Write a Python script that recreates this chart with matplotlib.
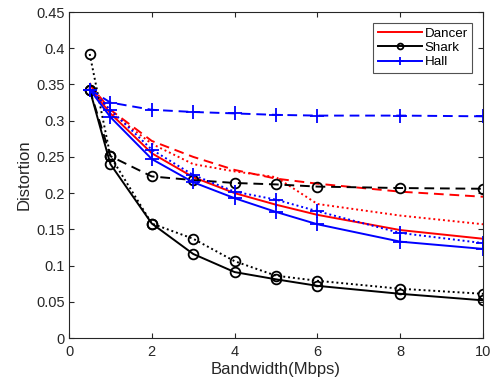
import matplotlib
matplotlib.use("Agg")
import matplotlib.pyplot as plt

plt.rcParams['font.family'] = ['Liberation Sans', 'DejaVu Sans']

bandwidth = [0.5, 1, 2, 3, 4, 5, 6, 8, 10]

dancer_solid = [0.345, 0.310, 0.255, 0.222, 0.200, 0.184, 0.170, 0.149, 0.137]
dancer_dashed = [0.350, 0.315, 0.272, 0.250, 0.232, 0.220, 0.213, 0.202, 0.195]
dancer_dotted = [0.352, 0.312, 0.268, 0.240, 0.230, 0.222, 0.185, 0.169, 0.157]

shark_solid = [0.343, 0.240, 0.158, 0.116, 0.091, 0.081, 0.072, 0.061, 0.052]
shark_dashed = [0.343, 0.251, 0.223, 0.218, 0.214, 0.212, 0.209, 0.207, 0.206]
shark_dotted = [0.392, 0.251, 0.158, 0.137, 0.106, 0.086, 0.079, 0.068, 0.061]

hall_solid = [0.343, 0.305, 0.247, 0.215, 0.193, 0.174, 0.157, 0.133, 0.123]
hall_dashed = [0.343, 0.325, 0.315, 0.312, 0.310, 0.308, 0.307, 0.307, 0.306]
hall_dotted = [0.343, 0.315, 0.260, 0.225, 0.202, 0.191, 0.175, 0.145, 0.131]

xticks = [0, 2, 4, 6, 8, 10]
yticks = [0, 0.05, 0.1, 0.15, 0.2, 0.25, 0.3, 0.35, 0.4, 0.45]
ytick_labels = ['0', '0.05', '0.1', '0.15', '0.2', '0.25', '0.3', '0.35', '0.4', '0.45']

fig = plt.figure(figsize=(4.93, 3.86), dpi=100)
ax = fig.add_axes([69/493, (386-338)/386, 414/493, 326/386])

lw = 1.4
ms = 7
mew = 1.3
red = '#ff0000'
blue = '#0000ff'
black = '#000000'
dash = (0, (5, 3))
dot = (0, (1, 1.5))

l1, = ax.plot(bandwidth, dancer_solid, color=red, lw=lw, ls='-', label='Dancer')
ax.plot(bandwidth, dancer_dashed, color=red, lw=lw, ls=dash)
ax.plot(bandwidth, dancer_dotted, color=red, lw=lw, ls=dot)

l2, = ax.plot(bandwidth, shark_solid, color=black, lw=lw, ls='-', marker='o', ms=ms,
              mfc='none', mew=mew, label='Shark')
ax.plot(bandwidth, shark_dashed, color=black, lw=lw, ls=dash, marker='o', ms=ms,
        mfc='none', mew=mew)
ax.plot(bandwidth, shark_dotted, color=black, lw=lw, ls=dot, marker='o', ms=ms,
        mfc='none', mew=mew)

l3, = ax.plot(bandwidth, hall_solid, color=blue, lw=lw, ls='-', marker='+', ms=10,
              mew=mew, label='Hall')
ax.plot(bandwidth, hall_dashed, color=blue, lw=lw, ls=dash, marker='+', ms=10, mew=mew)
ax.plot(bandwidth, hall_dotted, color=blue, lw=lw, ls=dot, marker='+', ms=10, mew=mew)

ax.set_xlim(0, 10)
ax.set_ylim(0, 0.45)
ax.set_xticks(xticks)
ax.set_yticks(yticks)
ax.set_yticklabels(ytick_labels)
ax.tick_params(direction='in', top=True, right=True, length=3.6, width=0.8,
               labelsize=10.5, colors='#262626')
ax.tick_params(axis='x', pad=5)
ax.tick_params(axis='y', pad=3)
for s in ax.spines.values():
    s.set_color('#262626')
    s.set_linewidth(0.8)

ax.set_xlabel('Bandwidth(Mbps)', fontsize=12, color='#262626', labelpad=2)
ax.set_ylabel('Distortion', fontsize=12, color='#262626', labelpad=3)

leg = ax.legend(handles=[l1, l2, l3], loc='upper right', fontsize=9.6,
                frameon=True, fancybox=False, edgecolor='#262626',
                borderpad=0.35, handlelength=3.3, handletextpad=0.2,
                labelspacing=0.15, borderaxespad=0.8, markerscale=0.6)
leg.get_frame().set_linewidth(0.8)

fig.savefig('out.png', dpi=100)
